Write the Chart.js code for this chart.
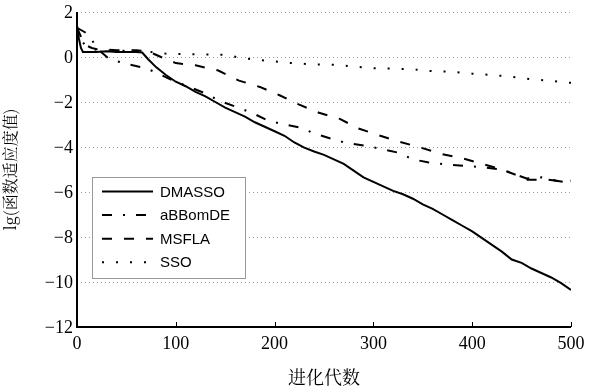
<!DOCTYPE html>
<html>
<head>
<meta charset="utf-8">
<script src="https://cdn.jsdelivr.net/npm/chart.js@4"></script>
<style>
html,body{margin:0;padding:0;background:#fff;}
canvas{display:block;}
</style>
</head>
<body>
<canvas id="c" width="598" height="389"></canvas>
<script>
// ---- data ----
const seriesNames = ['DMASSO', 'aBBomDE', 'MSFLA', 'SSO'];

const dmassoX = [0,2,4,6,20,30,40,50,60,66,72,80,90,100,110,120,130,140,150,160,170,180,190,200,210,220,230,240,250,260,270,280,290,300,310,320,330,340,350,360,370,380,390,400,410,420,430,440,450,460,470,480,490,500];
const dmassoY = [1.4,0.8,0.4,0.22,0.22,0.25,0.22,0.22,0.22,0.2,-0.1,-0.45,-0.8,-1.1,-1.3,-1.55,-1.75,-2.0,-2.25,-2.45,-2.65,-2.9,-3.1,-3.3,-3.5,-3.8,-4.03,-4.2,-4.35,-4.55,-4.75,-5.05,-5.35,-5.55,-5.75,-5.95,-6.1,-6.3,-6.55,-6.75,-7.0,-7.25,-7.5,-7.75,-8.05,-8.35,-8.65,-9.0,-9.15,-9.4,-9.6,-9.8,-10.05,-10.35];

const abbX = [0,4,8,14,18,25,33,50,70,82,97,112,130,145,160,178,193,210,227,240,258,272,291,305,325,340,355,373,391,410,430,455,470,485,500];
const abbY = [1.3,1.2,1.1,0.9,0.5,0.2,-0.1,-0.3,-0.5,-0.73,-1.05,-1.3,-1.62,-1.96,-2.2,-2.5,-2.82,-3.0,-3.15,-3.4,-3.64,-3.82,-3.94,-4.06,-4.25,-4.55,-4.68,-4.78,-4.83,-4.9,-5.0,-5.4,-5.35,-5.5,-5.6];

const msflaX = [0,3,6,10,15,20,40,60,72,85,100,120,143,164,185,205,225,245,266,285,307,325,346,368,390,410,430,445,455,475,490,500];
const msflaY = [1.3,1.0,0.7,0.5,0.4,0.35,0.3,0.3,0.25,0.0,-0.27,-0.37,-0.6,-1.05,-1.33,-1.7,-2.12,-2.48,-2.75,-3.18,-3.5,-3.75,-4.0,-4.3,-4.5,-4.75,-5.0,-5.25,-5.45,-5.45,-5.52,-5.5];

const ssoX = [0,5,10,15,25,50,75,90,120,150,165,180,200,220,240,260,280,300,320,340,360,380,400,420,440,460,480,500];
const ssoY = [1.2,0.7,0.45,0.35,0.3,0.28,0.22,0.15,0.12,0.1,-0.03,-0.12,-0.2,-0.28,-0.33,-0.35,-0.42,-0.5,-0.52,-0.55,-0.63,-0.66,-0.74,-0.8,-0.88,-0.99,-1.06,-1.15];

const xTicks = [0,100,200,300,400,500];
const yTicks = [-12,-10,-8,-6,-4,-2,0,2];
const xTitle = '进化代数';
const yTitle = 'lg(函数适应度值)';

// ---- build ----
function pts(xs, ys){ return xs.map((x,i)=>({x:x, y:ys[i]})); }
const dashes = [[], [10,11,2,11], [10,12], [2,12]];
const allX = [dmassoX, abbX, msflaX, ssoX];
const allY = [dmassoY, abbY, msflaY, ssoY];

const datasets = seriesNames.map((n,i)=>({
  label: n,
  data: pts(allX[i], allY[i]),
  borderColor: '#000',
  borderWidth: 2,
  borderDash: dashes[i],
  pointRadius: 0,
  tension: 0,
  fill: false
}));

const serif = '"Liberation Serif"';
const cjk = '"Noto Serif CJK SC"';
const sans = '"Liberation Sans"';

Chart.defaults.color = '#000';

const fmt = v => (v < 0 ? '\u2212' + Math.abs(v) : String(v));

const gridPlugin = {
  id: 'dotGrid',
  beforeDatasetsDraw(chart){
    const ctx = chart.ctx, ca = chart.chartArea, ys = chart.scales.y;
    ctx.save();
    ctx.strokeStyle = '#9a9a9a';
    ctx.lineWidth = 1;
    ctx.setLineDash([1,3]);
    yTicks.forEach(t => {
      if (t === yTicks[0]) return;
      const py = Math.round(ys.getPixelForValue(t)) + 0.5;
      ctx.beginPath();
      ctx.moveTo(ca.left, py);
      ctx.lineTo(ca.right, py);
      ctx.stroke();
    });
    ctx.restore();
  }
};

const tickLabelPlugin = {
  id: 'serifTicks',
  afterDraw(chart){
    const ctx = chart.ctx, ca = chart.chartArea, xs = chart.scales.x, ys = chart.scales.y;
    ctx.save();
    ctx.fillStyle = '#000';
    ctx.font = '18px ' + serif;
    ctx.textBaseline = 'alphabetic';
    ctx.textAlign = 'right';
    yTicks.forEach(t => {
      ctx.fillText(fmt(t), ca.left - 4, ys.getPixelForValue(t) + 6);
    });
    ctx.textAlign = 'center';
    xTicks.forEach(t => {
      ctx.fillText(fmt(t), xs.getPixelForValue(t), ca.bottom + 21.5);
    });
    ctx.restore();
  }
};

const legendPlugin = {
  id: 'insideLegend',
  afterDraw(chart){
    const ctx = chart.ctx, ca = chart.chartArea;
    const bx = ca.left + 15, by = ca.top + 165, bw = 153, bh = 101;
    ctx.save();
    ctx.fillStyle = '#fff';
    ctx.fillRect(bx, by, bw, bh);
    ctx.strokeStyle = '#999';
    ctx.lineWidth = 1;
    ctx.strokeRect(bx + 0.5, by + 0.5, bw, bh);
    ctx.font = '15px ' + sans;
    ctx.textBaseline = 'middle';
    ctx.textAlign = 'left';
    ctx.fillStyle = '#000';
    chart.data.datasets.forEach((ds, i) => {
      const yy = by + 14.5 + i * 23.6;
      ctx.beginPath();
      ctx.setLineDash(ds.borderDash);
      ctx.lineWidth = 2;
      ctx.strokeStyle = '#000';
      ctx.moveTo(bx + 10, yy);
      ctx.lineTo(bx + 61, yy);
      ctx.stroke();
      ctx.setLineDash([]);
      ctx.fillText(ds.label, bx + 68, yy + 1);
    });
    ctx.restore();
  }
};

const axisPlugin = {
  id: 'axes',
  afterDatasetsDraw(chart){
    const ctx = chart.ctx, ca = chart.chartArea, xs = chart.scales.x;
    ctx.save();
    ctx.strokeStyle = '#000';
    ctx.lineWidth = 1;
    xTicks.forEach(t => {
      const px = Math.round(xs.getPixelForValue(t)) + 0.5;
      ctx.beginPath();
      ctx.moveTo(px, ca.bottom);
      ctx.lineTo(px, ca.bottom - 5);
      ctx.stroke();
    });
    ctx.lineWidth = 2;
    ctx.beginPath();
    ctx.moveTo(ca.left, ca.top);
    ctx.lineTo(ca.left, ca.bottom);
    ctx.lineTo(ca.right, ca.bottom);
    ctx.stroke();
    ctx.restore();
  }
};

function build(){
  new Chart(document.getElementById('c'), {
    type: 'line',
    data: { datasets },
    options: {
      responsive: false,
      animation: false,
      events: [],
      layout: { padding: { left: 0, right: 27, top: 12, bottom: 0 } },
      plugins: { legend: { display: false }, tooltip: { enabled: false } },
      scales: {
        x: {
          type: 'linear',
          min: 0, max: 500,
          afterBuildTicks: s => { s.ticks = xTicks.map(v => ({value: v})); },
          afterFit: s => { s.height = 62; },
          grid: { display: false, drawTicks: false },
          border: { display: false },
          ticks: { display: false },
          title: { display: true, text: xTitle, color: '#000', font: { family: cjk, size: 18 }, padding: { top: 0, bottom: 1 } }
        },
        y: {
          type: 'linear',
          min: -12, max: 2,
          afterBuildTicks: s => { s.ticks = yTicks.map(v => ({value: v})); },
          afterFit: s => { s.width = 77; },
          grid: { display: false, drawTicks: false },
          border: { display: false },
          ticks: { display: false },
          title: { display: true, text: yTitle, color: '#000', font: { family: cjk, size: 16 }, padding: { top: 0, bottom: 4 } }
        }
      }
    },
    plugins: [gridPlugin, legendPlugin, axisPlugin, tickLabelPlugin]
  });
}

Promise.all([
  document.fonts.load('18px "Liberation Serif"', '0123456789\u2212'),
  document.fonts.load('15px "Liberation Sans"', 'DMASSO'),
  document.fonts.load('17px "Noto Serif CJK SC"', xTitle + yTitle)
]).catch(()=>{}).then(build);
</script>
</body>
</html>
